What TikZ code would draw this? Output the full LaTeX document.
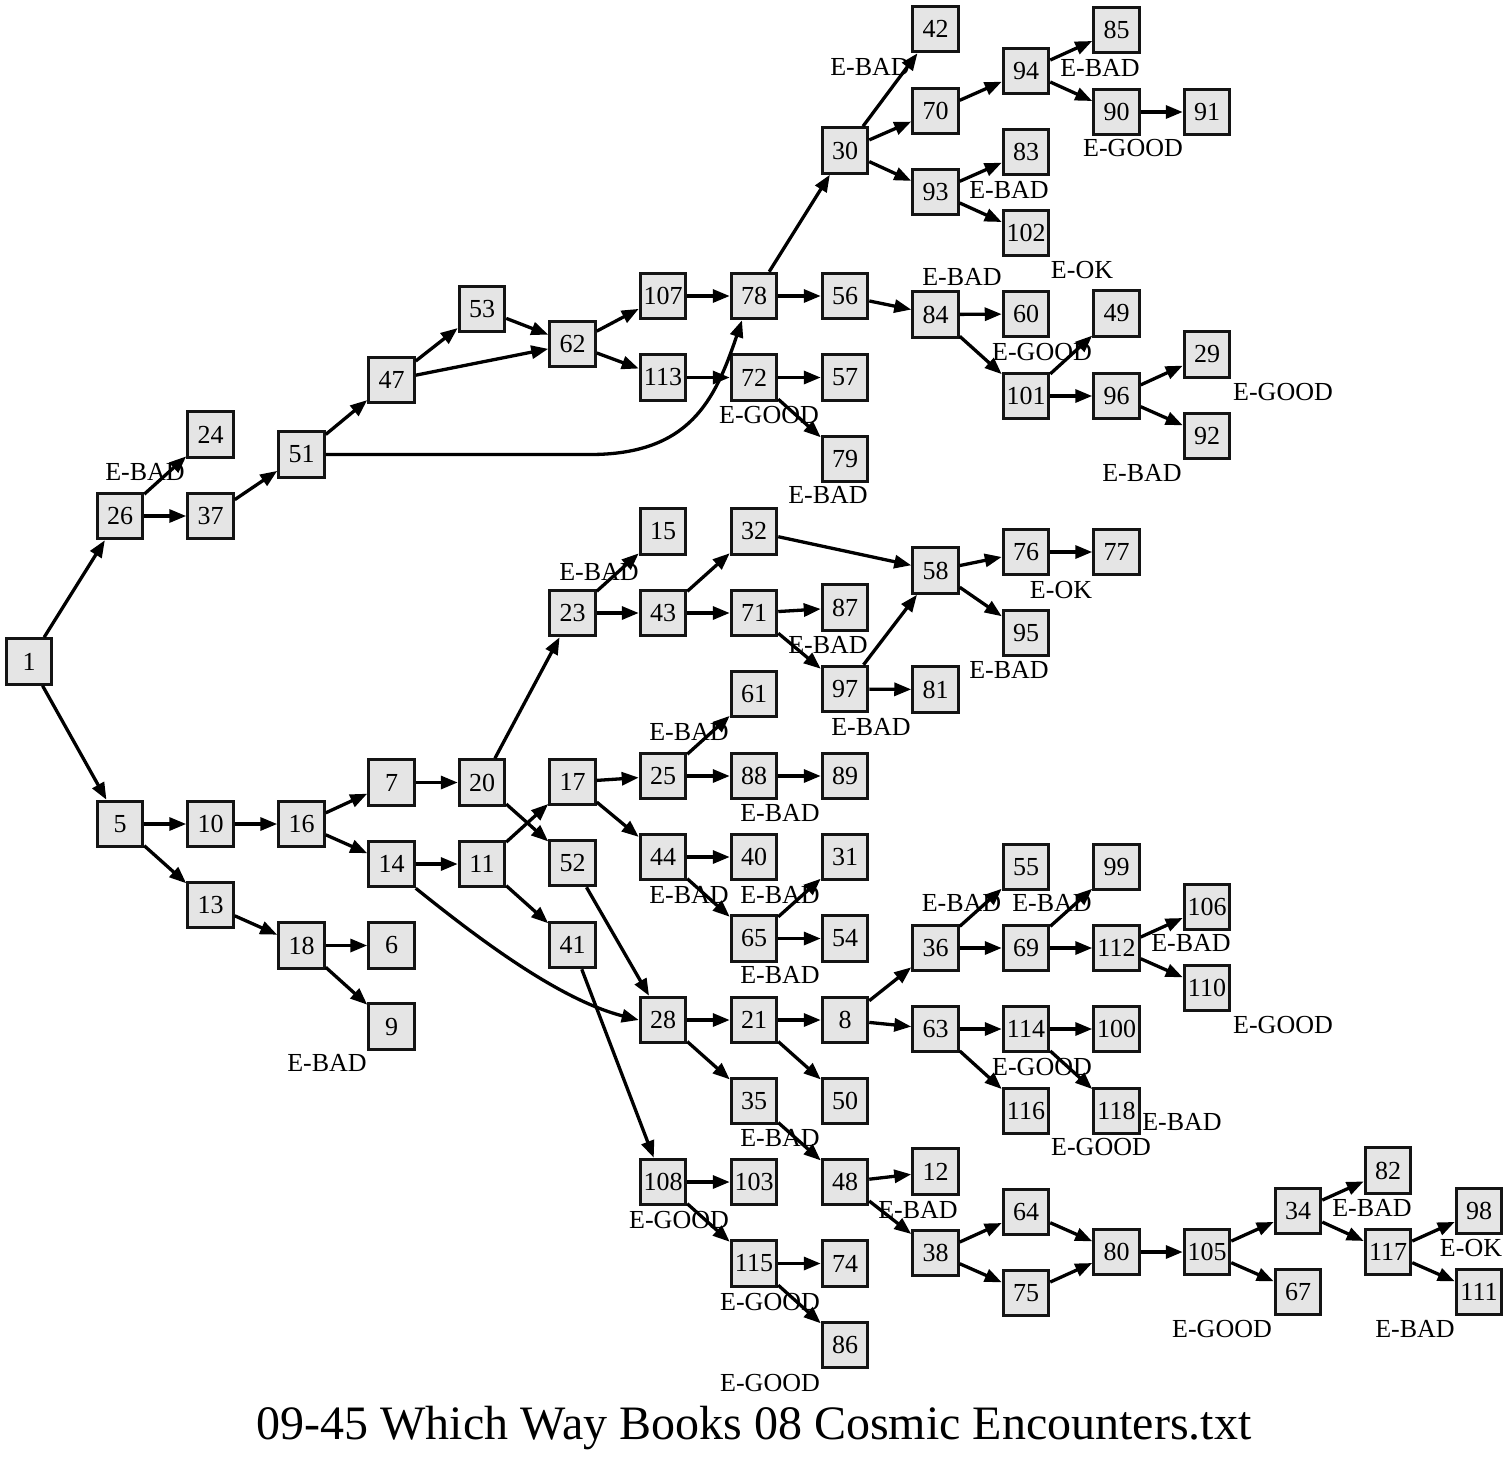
\documentclass[tikz,border=0pt]{standalone}
\usepackage{fontspec}
\setmainfont{Liberation Serif}
\usetikzlibrary{arrows.meta}
\definecolor{nodefill}{HTML}{E5E5E5}
\begin{document}
\begin{tikzpicture}[x=1pt,y=-1pt,
 box/.style={draw=black!92,fill=nodefill,line width=3pt,minimum size=45.5pt,inner sep=0pt,font=\fontsize{26}{26}\selectfont},
 lbl/.style={inner sep=0pt,font=\fontsize{26}{26}\selectfont},
 edge/.style={line width=3.3pt,-{Triangle[length=17pt,width=13pt]}}]
\useasboundingbox (0,0) rectangle (1509,1460);
% nodes
\foreach \n/\x/\y in {1/29/661.5, 26/120/516, 24/210.5/434.5, 37/210.5/516, 51/301.5/454.5,
  47/391.5/380, 53/482/309, 62/572.5/344, 107/663/296, 113/663/377.5, 78/754/296, 72/754/377.5,
  56/845/296, 57/845/377.5, 79/845/459, 30/845/150.5, 42/935.5/29, 70/935.5/111, 93/935.5/192,
  94/1026/71, 83/1026/152, 102/1026/233, 85/1116.5/30, 90/1116.5/112, 91/1207/112,
  84/935.5/314.5, 60/1026/314, 101/1026/396, 49/1116.5/313.5, 96/1116.5/396, 29/1207/354.5, 92/1207/436,
  5/120/824, 10/210.5/824, 16/301.5/824, 13/210.5/905, 18/301.5/945.5, 6/391.5/945.5, 9/391.5/1026.5,
  7/391.5/782.5, 14/391.5/864, 20/482/782.5, 11/482/864,
  23/572.5/613, 17/572.5/782, 52/572.5/863, 41/572.5/945,
  15/663/531.5, 43/663/613, 25/663/776, 44/663/857, 28/663/1020, 108/663/1182,
  32/754/531.5, 71/754/613, 61/754/694, 88/754/776, 40/754/857, 65/754/938.5, 21/754/1020, 35/754/1101, 103/754/1182, 115/754/1263.5,
  87/845/607.5, 97/845/689, 89/845/776, 31/845/857, 54/845/938.5, 8/845/1020, 50/845/1101, 48/845/1182, 74/845/1263.5, 86/845/1345,
  58/935.5/570.5, 81/935.5/689.5, 36/935.5/948, 63/935.5/1029, 12/935.5/1171.5, 38/935.5/1253,
  76/1026/552, 95/1026/633, 55/1026/867, 69/1026/948, 114/1026/1029, 116/1026/1111, 64/1026/1212, 75/1026/1293,
  77/1116.5/552, 99/1116.5/867, 112/1116.5/948, 100/1116.5/1029, 118/1116.5/1111, 80/1116.5/1252,
  106/1207/907, 110/1207/988, 105/1207/1252, 34/1298/1211, 67/1298/1292,
  82/1388/1170.5, 117/1388/1252, 98/1479/1211, 111/1479/1292}
  \node[box] (n\n) at (\x,\y) {\n};
% labels
\foreach \i/\t/\x/\y in {1/E-BAD/870/67, 2/E-BAD/1100/68, 3/E-GOOD/1133/148, 4/E-BAD/1009/190,
  5/E-OK/1082/270, 6/E-BAD/962/277, 7/E-GOOD/1042/352, 8/E-GOOD/1283/392, 9/E-BAD/1142/473,
  10/E-GOOD/769/415, 11/E-BAD/828/495, 12/E-BAD/145/472, 13/E-BAD/599/572, 14/E-OK/1061/590,
  15/E-BAD/828/645, 16/E-BAD/1009/670, 17/E-BAD/871/727, 18/E-BAD/689/732, 19/E-BAD/780/813,
  20/E-BAD/689/895, 21/E-BAD/780/895, 22/E-BAD/780/975, 23/E-BAD/961.5/903, 24/E-BAD/1052/903,
  25/E-BAD/1191/943, 26/E-GOOD/1283/1025, 27/E-GOOD/1042/1067, 28/E-BAD/1182/1122, 29/E-GOOD/1101/1147,
  30/E-BAD/780/1138, 31/E-GOOD/679/1220, 32/E-BAD/918/1210, 33/E-GOOD/770/1302, 34/E-GOOD/770/1383,
  35/E-BAD/1372/1208, 36/E-OK/1471/1248, 37/E-GOOD/1222/1329, 38/E-BAD/1415/1329, 39/E-BAD/327/1063}
  \node[lbl] (l\i) at (\x,\y) {\t};
% edges
\foreach \a/\b in {1/26,1/5,26/24,26/37,37/51,51/47,47/53,47/62,53/62,62/107,62/113,107/78,113/72,
  78/30,78/56,72/57,72/79,30/42,30/70,30/93,70/94,94/85,94/90,90/91,93/83,93/102,56/84,84/60,84/101,
  101/49,101/96,96/29,96/92,5/10,5/13,10/16,16/7,16/14,7/20,14/11,20/23,20/52,23/15,23/43,43/32,43/71,
  32/58,71/87,71/97,97/58,97/81,58/76,58/95,76/77,11/17,11/41,17/25,17/44,25/61,25/88,88/89,44/40,44/65,
  65/31,65/54,52/28,41/108,13/18,18/6,18/9,28/21,28/35,21/8,21/50,8/36,8/63,36/55,36/69,69/99,69/112,
  112/106,112/110,63/114,63/116,114/100,114/118,35/48,48/12,48/38,38/64,38/75,64/80,75/80,80/105,
  105/34,105/67,34/82,34/117,117/98,117/111,108/103,108/115,115/74,115/86}
  \draw[edge] (n\a) -- (n\b);
\draw[edge] (n51.east) -- (590,454.5) .. controls (690,454.5) and (715,400) .. ([xshift=-12pt]n78.south);
\draw[edge] (n14.south east) .. controls (480,940) and (560,1000) .. (n28.west);
% title
\node[anchor=base,inner sep=0pt,font=\fontsize{48}{48}\selectfont] (title) at (754,1439) {09-45 Which Way Books 08 Cosmic Encounters.txt};
\end{tikzpicture}
\end{document}
